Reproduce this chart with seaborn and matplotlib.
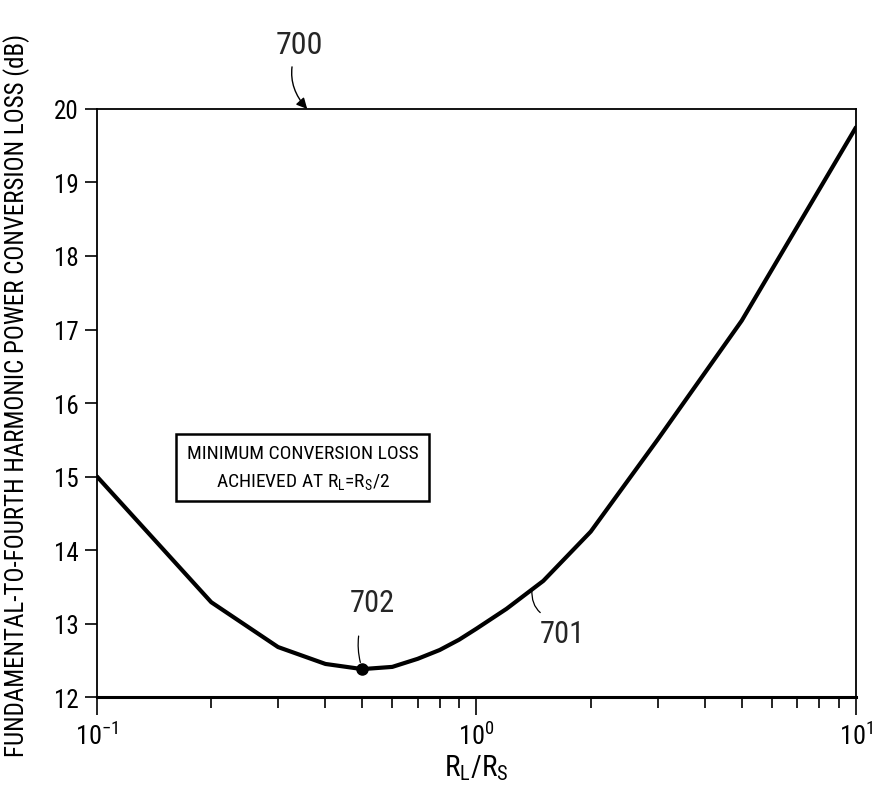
import numpy as np
import pandas as pd
import matplotlib
matplotlib.use('Agg')
import matplotlib.pyplot as plt
from matplotlib.ticker import LogLocator, LogFormatterSciNotation, NullFormatter
import seaborn as sns

# values
ratio = [0.1, 0.2, 0.3, 0.4, 0.5, 0.6, 0.7, 0.8, 0.9, 1.0, 1.2, 1.5, 2.0, 3.0, 5.0, 10.0]
loss_db = [15.0, 13.29, 12.68, 12.45, 12.38, 12.41, 12.52, 12.64, 12.78, 12.93,
           13.2, 13.58, 14.25, 15.5, 17.12, 19.75]
y_ticks = [12, 13, 14, 15, 16, 17, 18, 19, 20]

df = pd.DataFrame({'ratio': ratio, 'loss': loss_db})

sns.set_theme(style='ticks')
plt.rcParams['font.family'] = ['Roboto Condensed', 'Liberation Sans Narrow', 'Roboto', 'DejaVu Sans']
plt.rcParams['mathtext.default'] = 'regular'

fig = plt.figure(figsize=(8.77, 8.04), dpi=100)
ax = fig.add_axes([0.1106, 0.1318, 0.8654, 0.7314])

sns.lineplot(data=df, x='ratio', y='loss', color='black', linewidth=3.0, ax=ax)
ax.set_xscale('log')
ax.set_xlim(0.1, 10)
ax.set_ylim(12, 20)
ax.set_yticks(y_ticks)

ax.xaxis.set_major_locator(LogLocator(base=10))
ax.xaxis.set_minor_locator(LogLocator(base=10, subs=np.arange(2, 10)))
ax.xaxis.set_major_formatter(LogFormatterSciNotation())
ax.xaxis.set_minor_formatter(NullFormatter())

for side in ['left', 'right', 'top']:
    ax.spines[side].set_linewidth(1.3)
    ax.spines[side].set_color('black')
ax.spines['bottom'].set_linewidth(2.2)
ax.spines['bottom'].set_color('black')

ax.tick_params(axis='y', which='major', direction='out', length=9, width=1.2,
               color='black', labelsize=18, pad=4, labelcolor='black')
ax.tick_params(axis='x', which='major', direction='out', length=13, width=1.2,
               color='black', labelsize=19, pad=5, labelcolor='black')
ax.tick_params(axis='x', which='minor', direction='out', length=8, width=1.2,
               color='black')
ax.grid(False)

ax.set_xlabel(r'$R_L/R_S$', fontsize=21, color='black', labelpad=2)
ax.set_ylabel('FUNDAMENTAL-TO-FOURTH HARMONIC POWER CONVERSION LOSS (dB)',
              fontsize=18, color='black')
ax.yaxis.set_label_coords(-0.088, 0.515)

# minimum point 702
i_min = int(np.argmin(loss_db))
ax.plot(ratio[i_min], loss_db[i_min], 'o', color='black', markersize=8)
ax.annotate('702', xy=(ratio[i_min], loss_db[i_min]), xytext=(10, 67),
            textcoords='offset pixels', ha='center', va='center', fontsize=22,
            arrowprops=dict(arrowstyle='-', color='black', lw=0.9,
                            shrinkA=12, shrinkB=5,
                            connectionstyle='arc3,rad=0.25'))

# curve label 701
x701 = 1.4
y701 = np.interp(np.log10(x701), np.log10(ratio), loss_db)
ax.annotate('701', xy=(x701, y701), xytext=(30, -44),
            textcoords='offset pixels', ha='center', va='center', fontsize=22,
            arrowprops=dict(arrowstyle='-', color='black', lw=0.9,
                            shrinkA=4, shrinkB=0,
                            connectionstyle='arc3,rad=-0.4',
                            relpos=(0.3, 1.0)))

# figure label 700
ax.annotate('700', xy=(0.277, 1.0), xycoords='axes fraction',
            xytext=(-8, 64), textcoords='offset pixels',
            ha='center', va='center', fontsize=23,
            arrowprops=dict(arrowstyle='-|>', color='black', lw=1.0,
                            mutation_scale=16, shrinkA=3, shrinkB=0,
                            connectionstyle='arc3,rad=0.35'))

ax.text(0.271, 0.391, 'MINIMUM CONVERSION LOSS\nACHIEVED AT $R_L$=$R_S$/2',
        transform=ax.transAxes, ha='center', va='center', fontsize=14,
        linespacing=1.6, color='black',
        bbox=dict(boxstyle='square,pad=0.55', facecolor='white',
                  edgecolor='black', linewidth=1.8))

fig.savefig('out.png', dpi=100)
